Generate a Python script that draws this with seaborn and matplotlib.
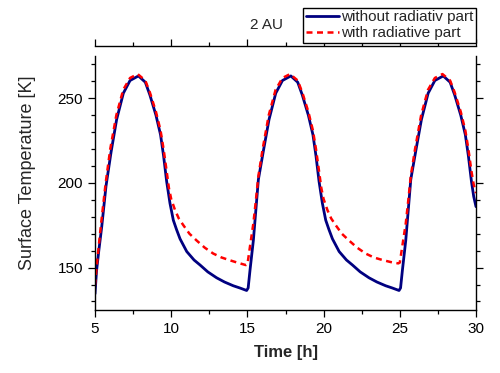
import matplotlib
matplotlib.use("Agg")
import matplotlib.pyplot as plt
import seaborn as sns
import pandas as pd
from matplotlib.ticker import MultipleLocator

# ---- data ----
time_blue = [5.0, 5.1, 5.25, 5.44, 5.72, 6.05, 6.42, 6.86, 7.3, 7.85, 8.3, 8.6, 9.0, 9.3, 9.5, 9.7, 9.92, 10.14, 10.35, 10.58, 11.02, 11.5, 11.9, 12.4, 12.98, 13.5, 14.07, 14.5, 14.95,
             15.05, 15.17, 15.39, 15.72, 16.05, 16.42, 16.86, 17.3, 17.85, 18.3, 18.6, 19.0, 19.3, 19.5, 19.7, 19.92, 20.14, 20.35, 20.58, 21.02, 21.5, 21.9, 22.4, 22.98, 23.5, 24.07, 24.5, 24.95,
             25.05, 25.17, 25.39, 25.72, 26.05, 26.42, 26.86, 27.3, 27.85, 28.3, 28.6, 29.0, 29.3, 29.5, 29.7, 29.85, 30.0]
temp_blue = [134.5, 148, 160, 174, 198, 218, 237.5, 253, 260.5, 263.2, 259.5, 252, 240, 228.5, 216, 201, 188, 178, 172.5, 167, 159.5, 154.5, 151.5, 147.5, 144, 141.5, 139.3, 138, 136.5,
             138, 148.4, 166, 202, 219, 237.5, 253, 260.5, 263.2, 259.5, 252, 240, 228.5, 216, 201, 188, 178, 172.5, 167, 159.5, 154.5, 151.5, 147.5, 144, 141.5, 139.3, 138, 136.5,
             138, 148.4, 166, 202, 219, 237.5, 253, 260.5, 263.2, 259.5, 252, 240, 228.5, 216, 201, 192, 186]

time_red = [5.0, 5.1, 5.25, 5.4, 5.7, 6.0, 6.4, 6.85, 7.3, 7.8, 8.3, 8.6, 9.0, 9.3, 9.5, 9.7, 9.85, 10.0, 10.25, 10.5, 10.8, 11.2, 11.67, 12.2, 12.76, 13.3, 13.86, 14.4, 14.9, 15.0,
            15.06, 15.17, 15.39, 15.56, 15.72, 16.0, 16.4, 16.85, 17.3, 17.8, 18.3, 18.6, 19.0, 19.3, 19.5, 19.7, 19.85, 20.0, 20.25, 20.5, 20.8, 21.2, 21.67, 22.2, 22.76, 23.3, 23.86, 24.4, 24.9, 25.0,
            25.06, 25.17, 25.39, 25.56, 25.72, 26.0, 26.4, 26.85, 27.3, 27.8, 28.3, 28.6, 29.0, 29.3, 29.5, 29.7, 29.85, 30.0]
temp_red = [139.5, 150, 163, 176, 200, 220, 240, 255, 262, 264.3, 260.5, 253.5, 242, 231, 220, 207, 197, 190.5, 184, 179, 175, 170, 166, 161.8, 158.3, 156, 154.3, 152.8, 151.5, 152,
            155.5, 162.5, 176, 190, 204, 220, 240, 255, 262, 264.3, 260.5, 253.5, 242, 231, 220, 207, 197, 190.5, 184, 179, 175, 170, 166, 161.8, 158.3, 156, 154.5, 153.3, 152.5, 153,
            156.5, 163, 176, 190, 204, 220, 240, 255, 262, 264.3, 260.5, 253.5, 242, 231, 220, 207, 199, 194]

label_blue = "without radiativ part"
label_red = "with radiative part"
title_text = "2 AU"
x_label = "Time [h]"
y_label = "Surface Temperature [K]"

sns.set_style("ticks")
plt.rcParams["font.family"] = ["Liberation Sans", "DejaVu Sans"]

fig = plt.figure(figsize=(5.0, 3.73), dpi=100)
ax = fig.add_axes([0.19, 0.169, 0.762, 0.681])

df_b = pd.DataFrame({"t": time_blue, "T": temp_blue})
df_r = pd.DataFrame({"t": time_red, "T": temp_red})

sns.lineplot(data=df_b, x="t", y="T", ax=ax, color="#000080", lw=2.0,
             label=label_blue, estimator=None)
sns.lineplot(data=df_r, x="t", y="T", ax=ax, color="#ff0000", lw=1.8,
             label=label_red, estimator=None)
ax.lines[1].set_dashes((2.4, 1.8))

ax.set_xlim(5, 30)
ax.set_ylim(125, 275)
ax.xaxis.set_major_locator(MultipleLocator(5))
ax.xaxis.set_minor_locator(MultipleLocator(2.5))
ax.yaxis.set_major_locator(MultipleLocator(50))
ax.yaxis.set_minor_locator(MultipleLocator(10))

for s in ax.spines.values():
    s.set_visible(True)
    s.set_linewidth(1.0)
    s.set_color("black")
ax.spines["top"].set_position(("outward", 7))

ax.tick_params(which="both", direction="out", top=True, right=True,
               labeltop=False, labelright=False, width=0.9, color="black",
               labelsize=11, labelcolor="black")
ax.tick_params(which="major", length=5)
ax.tick_params(which="minor", length=2.7)

ax.set_xlabel(x_label, fontsize=12, fontweight="bold", labelpad=7)
ax.set_ylabel(y_label, fontsize=13)
ax.yaxis.set_label_coords(-0.154, 0.541)

fig.text(0.534, 0.933, title_text, fontsize=11, ha="center", va="center")

leg = ax.legend(loc="upper right", bbox_to_anchor=(0.951, 0.979),
                bbox_transform=fig.transFigure, fontsize=11, frameon=True,
                fancybox=False, framealpha=1, edgecolor="black",
                borderaxespad=0, borderpad=0.15, labelspacing=0.15,
                handlelength=2.2, handletextpad=0.1)
leg.get_frame().set_linewidth(1.0)

fig.savefig("out.png", dpi=100)
